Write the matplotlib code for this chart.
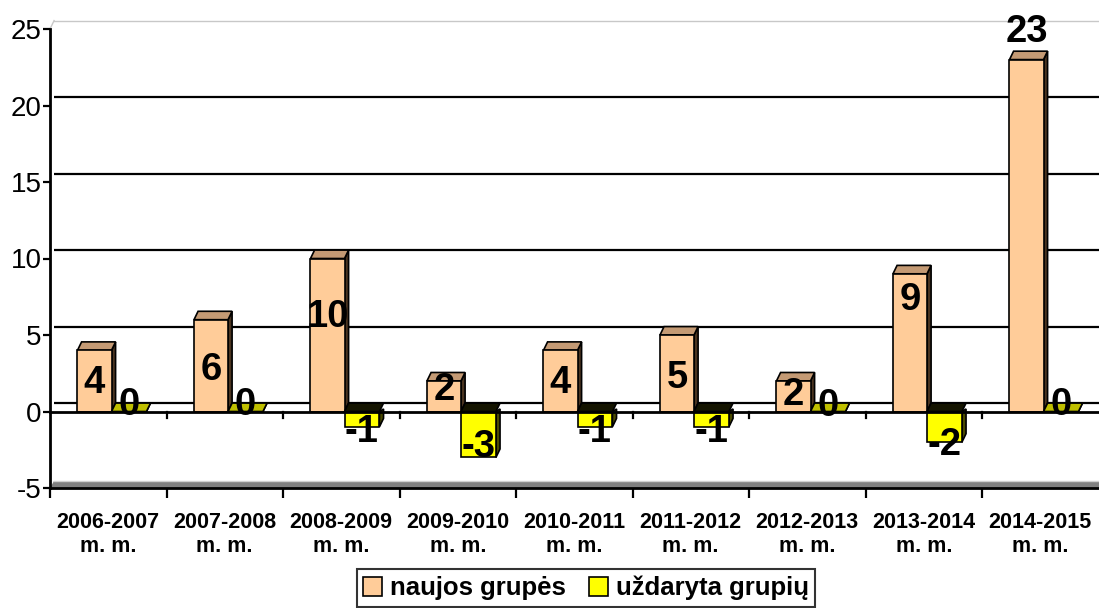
import matplotlib
matplotlib.use("Agg")
import matplotlib.pyplot as plt
from matplotlib.patches import Polygon, Patch

plt.rcParams['font.family'] = ['Liberation Sans', 'DejaVu Sans']

categories = ["2006-2007\nm. m.", "2007-2008\nm. m.", "2008-2009\nm. m.", "2009-2010\nm. m.",
              "2010-2011\nm. m.", "2011-2012\nm. m.", "2012-2013\nm. m.", "2013-2014\nm. m.",
              "2014-2015\nm. m."]
new_groups = [4, 6, 10, 2, 4, 5, 2, 9, 23]
closed_groups = [0, 0, -1, -3, -1, -1, 0, -2, 0]
series_names = ["naujos grupės", "uždaryta grupių"]
yticks = [-5, 0, 5, 10, 15, 20, 25]

# label anchor heights (styling)
new_label_y = [1.86, 2.7, 6.2, 1.4, 1.86, 2.2, 1.1, 7.3, 24.8]
closed_label_y = [0.45, 0.45, -1.35, -2.3, -1.35, -1.35, 0.35, -2.2, 0.45]

ORANGE = '#FFCC99'; ORANGE_TOP = '#C49A74'; ORANGE_SIDE = '#4A3420'
YELLOW = '#FFFF00'; YELLOW_TOP0 = '#BFBF00'; YELLOW_TOPNEG = '#141400'; YELLOW_SIDE = '#4A4A00'

W, H = 1099, 608
fig = plt.figure(figsize=(W / 100, H / 100), dpi=100)
px = 15.3  # pixels per unit
ymin, ymax = -5, 26
y_bottom_px = 488
ax_h = (ymax - ymin) * px
ax = fig.add_axes([50 / W, (H - y_bottom_px) / H, 1048.5 / W, ax_h / H])
ax.set_xlim(-0.5, 8.5)
ax.set_ylim(ymin, ymax)

dx, dy = 0.035, 0.55
n = len(categories)

# back wall gridlines
for v in yticks[1:-1]:
    ax.plot([-0.5 + dx, 8.5 + 0.1], [v + dy, v + dy], color='black', lw=1.6, zorder=1,
            clip_on=False, solid_capstyle='butt')
ax.plot([-0.5 + dx, 8.5 + 0.1], [25 + dy, 25 + dy], color='#C8C8C8', lw=1.0, zorder=1, clip_on=False)
ax.plot([-0.5, -0.5 + dx], [25, 25 + dy], color='#C8C8C8', lw=1.0, zorder=1, clip_on=False)

# floor
floor = Polygon([(-0.5, -5), (8.6, -5), (8.6, -5 + dy * 0.85), (-0.5 + dx, -5 + dy * 0.85)],
                closed=True, facecolor='#808080', edgecolor='none', zorder=2, clip_on=False)
ax.add_patch(floor)
ax.plot([-0.5 + dx, 8.6], [-5 + dy * 0.85, -5 + dy * 0.85], color='#D0D0D0', lw=1.0, zorder=2, clip_on=False)


def bar3d(x0, x1, v, front, top, side, zorder=3):
    lw = 1.2
    if v >= 0:
        ax.add_patch(Polygon([(x1, 0), (x1 + dx, dy), (x1 + dx, v + dy), (x1, v)], closed=True,
                             facecolor=side, edgecolor='black', lw=lw, zorder=zorder))
        ax.add_patch(Polygon([(x0, v), (x1, v), (x1 + dx, v + dy), (x0 + dx, v + dy)], closed=True,
                             facecolor=top, edgecolor='black', lw=lw, zorder=zorder))
        if v > 0:
            ax.add_patch(Polygon([(x0, 0), (x1, 0), (x1, v), (x0, v)], closed=True,
                                 facecolor=front, edgecolor='black', lw=lw, zorder=zorder + 0.1))
    else:
        ax.add_patch(Polygon([(x0, 0), (x1, 0), (x1 + dx, dy), (x0 + dx, dy)], closed=True,
                             facecolor=YELLOW_TOPNEG, edgecolor='black', lw=lw, zorder=zorder))
        ax.add_patch(Polygon([(x1, 0), (x1 + dx, dy * 0.3), (x1 + dx, v + dy), (x1, v)], closed=True,
                             facecolor=side, edgecolor='black', lw=lw, zorder=zorder))
        ax.add_patch(Polygon([(x0, v), (x1, v), (x1, 0), (x0, 0)], closed=True,
                             facecolor=front, edgecolor='black', lw=lw, zorder=zorder + 0.1))


for i in range(n):
    o0, o1 = i - 0.264, i + 0.028
    y0, y1 = i + 0.028, i + 0.328
    bar3d(o0, o1, new_groups[i], ORANGE, ORANGE_TOP, ORANGE_SIDE, zorder=3)
    cv = closed_groups[i]
    bar3d(y0, y1, cv, YELLOW, YELLOW_TOP0 if cv == 0 else YELLOW_TOPNEG, YELLOW_SIDE, zorder=3.5)
    ax.text((o0 + o1) / 2, new_label_y[i], str(new_groups[i]), ha='center', va='center',
            fontsize=27.5, fontweight='bold', zorder=6)
    ax.text((y0 + y1) / 2, closed_label_y[i], str(cv), ha='center', va='center',
            fontsize=27.5, fontweight='bold', zorder=6)

# front zero line with ticks
ax.plot([-0.5, 8.6], [0, 0], color='black', lw=2.0, zorder=5, clip_on=False)
for i in range(n - 1):
    ax.plot([i + 0.5, i + 0.5], [0, -0.45], color='black', lw=1.6, zorder=5)

# spines and ticks
for s in ['top', 'right']:
    ax.spines[s].set_visible(False)
ax.spines['left'].set_bounds(-5, 25)
ax.spines['left'].set_linewidth(2.0)
ax.spines['bottom'].set_linewidth(2.0)
ax.spines['bottom'].set_bounds(-0.5, 8.6)
ax.set_yticks(yticks)
ax.set_yticklabels([str(v) for v in yticks])
ax.tick_params(axis='y', length=5, width=1.6, labelsize=20, pad=1, direction='out')
ax.set_xticks(range(n))
ax.set_xticklabels(categories, fontsize=15.5, fontweight='bold', linespacing=1.2)
ax.set_xticks([i + 0.5 for i in range(-1, n - 1)], minor=True)
ax.tick_params(axis='x', which='major', length=0, pad=17)
ax.tick_params(axis='x', which='minor', length=7, width=1.6, direction='out')
ax.patch.set_visible(False)

handles = [Patch(facecolor=ORANGE, edgecolor='black', lw=1.2),
           Patch(facecolor=YELLOW, edgecolor='black', lw=1.2)]
leg = fig.legend(handles, series_names, loc='center', bbox_to_anchor=(586 / W, (H - 588) / H),
                 ncol=2, frameon=True, fancybox=False, edgecolor='black',
                 prop={'weight': 'bold', 'size': 18.5}, handlelength=0.75, handleheight=0.75,
                 handletextpad=0.3, columnspacing=0.9, borderpad=0.25, borderaxespad=0)
leg.get_frame().set_linewidth(1.5)

fig.savefig('out.png', dpi=100)
